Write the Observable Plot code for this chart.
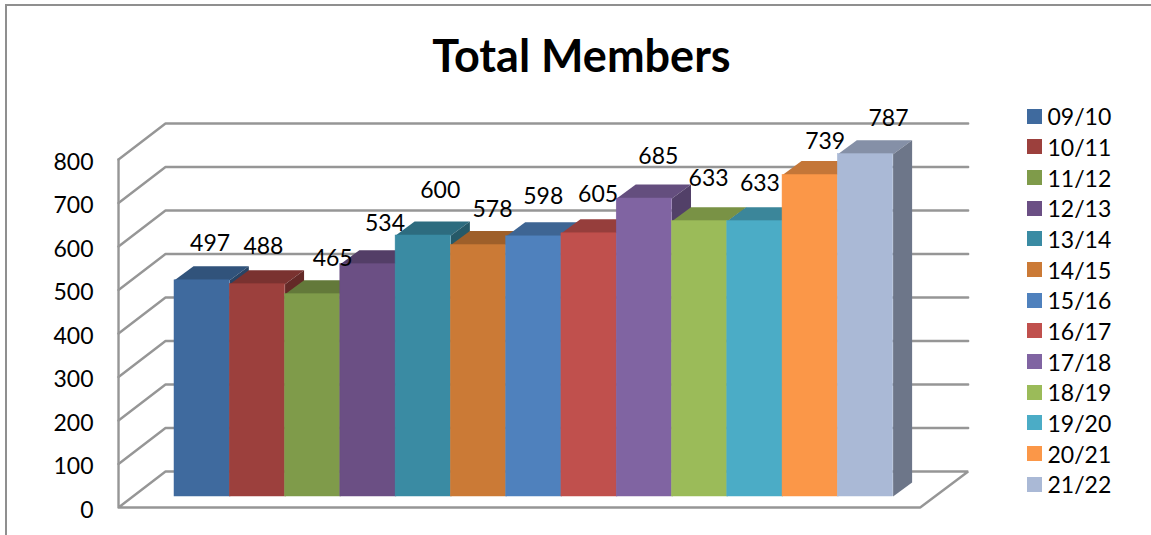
<!DOCTYPE html>
<html>
<head>
<meta charset="utf-8">
<script src="https://cdn.jsdelivr.net/npm/d3@7"></script>
<script src="https://cdn.jsdelivr.net/npm/@observablehq/plot@0.6"></script>
<style>
  html, body { margin: 0; padding: 0; background: #fff; overflow: hidden; }
  #chart { position: relative; width: 1151px; height: 535px; font-family: Lato, sans-serif; color: #000; }
  #frame { position: absolute; left: 5px; top: 4px; right: -5px; bottom: -5px; border-top: 2px solid #8f8f8f; border-left: 2px solid #8f8f8f; }
  #title { position: absolute; left: 0; top: 30px; width: 1163px; margin: 0; text-align: center; font-size: 45px; line-height: 50px; font-weight: 700; }
  #plot { position: absolute; left: 0; top: 0; }
  #legend { position: absolute; left: 1027px; top: 101px; }
  .row { display: flex; align-items: center; height: 30.67px; font-size: 23px; }
  .swatch { width: 15px; height: 15px; margin-right: 5.5px; flex: none; }
</style>
</head>
<body>
<div id="chart">
  <div id="frame"></div>
  <h1 id="title">Total Members</h1>
  <div id="plot"></div>
  <div id="legend"></div>
</div>
<script>
const seasons = ["09/10","10/11","11/12","12/13","13/14","14/15","15/16","16/17","17/18","18/19","19/20","20/21","21/22"];
const members = [497,488,465,534,600,578,598,605,685,633,633,739,787];
const colors = ["#3F6A9E","#9C403D","#7F9B4A","#6B4F84","#3A8BA3","#CB7A36","#4F81BD","#C0504D","#8064A2","#9BBB59","#4BACC6","#FB9748","#AAB9D6"];
const yTicks = [0,100,200,300,400,500,600,700,800];
// label nudges, in pixels, from the top centre of each bar's front face
const labelDx = [8,6,20,17,17,14,9.5,9,14,9,5,15,23];
const labelDy = [-37,-38,-36,-41,-45,-35,-40,-39,-42,-43,-38,-33,-36];

// Oblique projection, expressed in the chart's own units (bar slots and members)
const wall = {dx: 0.85, dy: 82.8, left: -1.0127, floorRight: 13.49, right: 14.358};
const bar = {dx: 0.344, dy: 32.2, base: 25.3};

const shade = (c, k) => { const r = d3.rgb(c); return d3.rgb(r.r*k, r.g*k, r.b*k).formatHex(); };
const gridStyle = {x: "x", y: "y", stroke: "#969696", strokeWidth: 2.4, strokeLinejoin: "miter"};

const gridMarks = yTicks.slice(1).map(t => Plot.line([
  {x: wall.left, y: t},
  {x: wall.left + wall.dx, y: t + wall.dy},
  {x: wall.right, y: t + wall.dy}
], gridStyle));

const floor = Plot.line([
  {x: wall.left, y: 800},
  {x: wall.left, y: 0},
  {x: wall.floorRight, y: 0},
  {x: wall.right, y: wall.dy},
  {x: wall.left + wall.dx, y: wall.dy},
  {x: wall.left, y: 0}
], gridStyle);

const barMarks = members.flatMap((v, i) => {
  const top = v + bar.base, l = i, r = i + 1, c = colors[i];
  return [
    Plot.line([
      {x: l, y: top}, {x: r, y: top},
      {x: r + bar.dx, y: top + bar.dy}, {x: l + bar.dx, y: top + bar.dy}, {x: l, y: top}
    ], {x: "x", y: "y", fill: shade(c, 0.78), stroke: "none"}),
    Plot.line([
      {x: r, y: bar.base}, {x: r, y: top},
      {x: r + bar.dx, y: top + bar.dy}, {x: r + bar.dx, y: bar.base + bar.dy}, {x: r, y: bar.base}
    ], {x: "x", y: "y", fill: shade(c, 0.64), stroke: "none"}),
    Plot.rect([{season: seasons[i]}], {x1: l, x2: r, y1: bar.base, y2: top, fill: c, stroke: c, strokeWidth: 0.5})
  ];
});

const labelMarks = members.map((v, i) => Plot.text([v], {
  x: i + 0.5, y: v + bar.base, text: d => String(d),
  dx: labelDx[i], dy: labelDy[i], fontSize: 23, fill: "#000"
}));

const chart = Plot.plot({
  width: 1151,
  height: 535,
  marginLeft: 118,
  marginTop: 0, marginRight: 0, marginBottom: 0,
  x: {type: "linear", domain: [0, 13], range: [174, 892.6], axis: null},
  y: {type: "linear", domain: [0, 800], range: [507, 159], axis: null},
  style: {fontFamily: "Lato, sans-serif", fontSize: "23px", background: "transparent", overflow: "visible"},
  marks: [
    ...gridMarks,
    floor,
    ...barMarks,
    Plot.axisY({ticks: yTicks, anchor: "left", tickSize: 0, tickPadding: 25, fontSize: 23, dy: 3, label: null, fill: "#000"}),
    ...labelMarks
  ]
});
document.getElementById("plot").append(chart);

const legend = document.getElementById("legend");
seasons.forEach((s, i) => {
  const row = document.createElement("div");
  row.className = "row";
  const sw = document.createElement("span");
  sw.className = "swatch";
  sw.style.background = colors[i];
  const t = document.createElement("span");
  t.textContent = s;
  row.append(sw, t);
  legend.append(row);
});
</script>
</body>
</html>
